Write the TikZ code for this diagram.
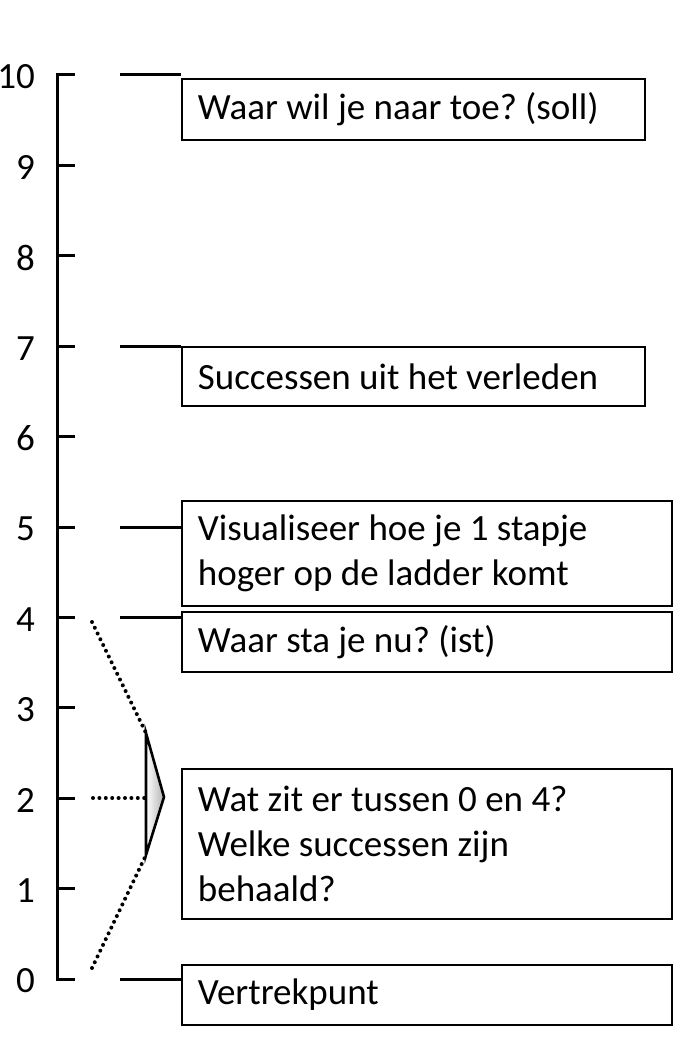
\documentclass[tikz,border=0pt]{standalone}
\usepackage{fontspec}
\setmainfont{Carlito}
\frenchspacing
\usetikzlibrary{positioning}

\begin{document}
\begin{tikzpicture}[x=1pt,y=-1pt,
        txt/.style={font=\fontsize{37}{45}\selectfont},
        box/.style={txt, draw, line width=1.8pt, anchor=north west, align=flush left, inner xsep=16pt, inner ysep=0pt},
        narrowbox/.style={box, text width=431pt},
        widebox/.style={box, text width=458pt},
        rung/.style={line width=3pt},
        dots/.style={line width=4pt, line cap=round, dash pattern=on 0pt off 6.4pt}]

        \useasboundingbox (0,0) rectangle (673,1056);

        % ladder 0..10
        \path[draw, rung] (75,75) -- (57,75) -- (57,979) -- (75,979);
        \foreach \k in {1,...,9}
            \path[draw, rung] (57,979-90.4*\k) -- (75,979-90.4*\k);
        \foreach \k in {0,...,10}
            \node[txt, anchor=east, inner sep=0pt] (n\k) at (35,981-90.4*\k) {\k};

        % boxes
        \node[narrowbox, minimum height=61pt] (soll) at (181,78) {Waar wil je naar toe? (soll)};
        \node[narrowbox, minimum height=59pt] (past) at (181,346) {Successen uit het verleden};
        \node[widebox, minimum height=105pt] (step) at (181,500) {Visualiseer hoe je 1 stapje\\hoger op de ladder komt};
        \node[widebox, minimum height=60pt] (ist) at (181,611) {Waar sta je nu? (ist)};
        \node[widebox, minimum height=150pt] (between) at (181,768) {Wat zit er tussen 0 en 4?\\Welke successen zijn\\behaald?};
        \node[widebox, minimum height=60pt] (start) at (181,964) {Vertrekpunt};

        % connectors
        \coordinate (c10) at (120,75);
        \coordinate (c7) at (120,346);
        \coordinate (c5) at (120,527);
        \coordinate (c4) at (120,617);
        \coordinate (c0) at (120,979);
        \path[draw, rung] (c10) -- (c10 -| soll.west);
        \path[draw, rung] (c7) -- (c7 -| past.west);
        \path[draw, rung] (c5) -- (c5 -| step.west);
        \path[draw, rung] (c4) -- (c4 -| ist.west);
        \path[draw, rung] (c0) -- (c0 -| start.west);

        % bracket between 0 and 4
        \coordinate (t1) at (146,733);
        \coordinate (t2) at (164,797);
        \coordinate (t3) at (146,855);
        \coordinate (d4) at (92,622);
        \coordinate (d2) at (93,798);
        \coordinate (d0) at (92,968);

        \path[draw, dots] (d4) -- (t1);
        \path[draw, dots] (d2) -- (d2 -| t1);
        \path[draw, dots] (d0) -- (t3);
        \path[draw, line width=2.6pt, line join=miter, left color=white, right color=black!30] (t1) -- (t2) -- (t3) -- cycle;

    \end{tikzpicture}
\end{document}
